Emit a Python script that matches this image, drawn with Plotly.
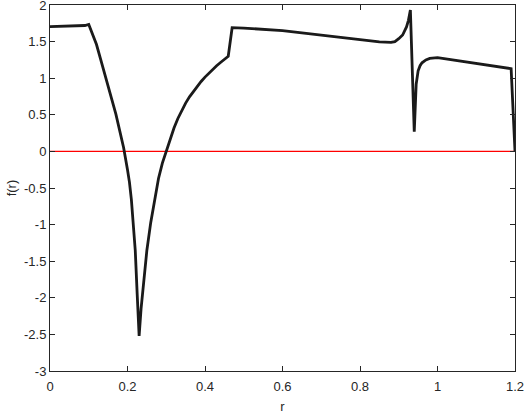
import plotly.graph_objects as go

r_vals = [0.0, 0.05, 0.09, 0.10, 0.11, 0.12, 0.13, 0.14, 0.15, 0.16, 0.17, 0.18, 0.19,
          0.20, 0.205, 0.21, 0.215, 0.22, 0.225, 0.23, 0.235, 0.24, 0.245, 0.25, 0.26,
          0.27, 0.28, 0.29, 0.30, 0.31, 0.32, 0.33, 0.34, 0.35, 0.36, 0.37, 0.38,
          0.39, 0.40, 0.41, 0.42, 0.43, 0.44, 0.45, 0.46, 0.47, 0.50, 0.60, 0.70,
          0.80, 0.85, 0.88, 0.89, 0.90, 0.91, 0.92, 0.925, 0.93, 0.94, 0.945, 0.95,
          0.955, 0.96, 0.97, 0.98, 1.00, 1.05, 1.10, 1.15, 1.19, 1.20]
f_vals = [1.705, 1.71, 1.72, 1.735, 1.61, 1.46, 1.27, 1.07, 0.88, 0.70, 0.51, 0.30, 0.05,
          -0.25, -0.42, -0.66, -0.95, -1.35, -1.95, -2.52, -2.15, -1.90, -1.60, -1.35, -0.97,
          -0.65, -0.37, -0.16, 0.0, 0.17, 0.32, 0.45, 0.56, 0.66, 0.745, 0.82, 0.89,
          0.955, 1.015, 1.07, 1.12, 1.17, 1.215, 1.26, 1.30, 1.69, 1.685, 1.65, 1.59,
          1.525, 1.495, 1.49, 1.50, 1.54, 1.59, 1.70, 1.79, 1.93, 0.27, 0.92, 1.10,
          1.17, 1.21, 1.25, 1.27, 1.28, 1.24, 1.20, 1.165, 1.13, 0.0]

zero_r = [0.0, 1.2]
zero_f = [0.0, 0.0]

x_ticks = [0, 0.2, 0.4, 0.6, 0.8, 1.0, 1.2]
x_tick_text = ["0", "0.2", "0.4", "0.6", "0.8", "1", "1.2"]
y_ticks = [-3, -2.5, -2, -1.5, -1, -0.5, 0, 0.5, 1, 1.5, 2]
y_tick_text = ["-3", "-2.5", "-2", "-1.5", "-1", "-0.5", "0", "0.5", "1", "1.5", "2"]

FONT = "Liberation Sans, Arial, sans-serif"
TXT = "#262626"

fig = go.Figure()
fig.add_trace(go.Scatter(x=zero_r, y=zero_f, mode="lines",
                         line=dict(color="#ff0000", width=1.3), showlegend=False))
fig.add_trace(go.Scatter(x=r_vals, y=f_vals, mode="lines",
                         line=dict(color="#1a1a1a", width=2.8), showlegend=False))

axis_common = dict(showgrid=False, zeroline=False, showline=True, linecolor=TXT,
                   linewidth=1, mirror="ticks", ticks="inside", ticklen=5,
                   tickcolor=TXT, automargin=False, ticklabeloverflow="allow",
                   tickfont=dict(family=FONT, size=13, color=TXT))

fig.update_layout(
    width=524, height=414,
    margin=dict(l=50, r=9, t=5, b=43),
    paper_bgcolor="white", plot_bgcolor="white",
    xaxis=dict(range=[0, 1.2], tickvals=x_ticks, ticktext=x_tick_text,
               ticklabelstandoff=3,
               title=dict(text="r", font=dict(family=FONT, size=13, color=TXT), standoff=9),
               **axis_common),
    yaxis=dict(range=[-3, 2], tickvals=y_ticks, ticktext=y_tick_text,
               title=dict(text="f(r)", font=dict(family=FONT, size=13, color=TXT), standoff=4),
               **axis_common),
)

fig.write_html("out.html",
               config={"displayModeBar": False, "staticPlot": True},
               post_script="document.body.style.margin='0';document.body.style.overflow='hidden';")
